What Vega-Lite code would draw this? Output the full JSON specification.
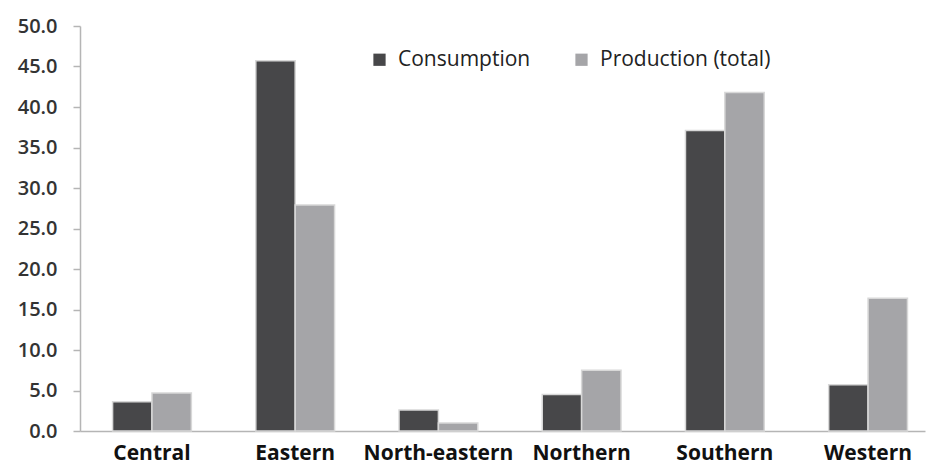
{
  "$schema": "https://vega.github.io/schema/vega-lite/v6.json",
  "width": 845,
  "height": 405,
  "autosize": {"type": "none"},
  "padding": {"left": 80, "top": 26, "right": 2, "bottom": 35},
  "background": "white",
  "data": {
    "values": [
      {"region": "Central", "series": "Consumption", "value": 3.6},
      {"region": "Central", "series": "Production (total)", "value": 4.7},
      {"region": "Eastern", "series": "Consumption", "value": 45.7},
      {"region": "Eastern", "series": "Production (total)", "value": 27.9},
      {"region": "North-eastern", "series": "Consumption", "value": 2.6},
      {"region": "North-eastern", "series": "Production (total)", "value": 1.0},
      {"region": "Northern", "series": "Consumption", "value": 4.5},
      {"region": "Northern", "series": "Production (total)", "value": 7.5},
      {"region": "Southern", "series": "Consumption", "value": 37.1},
      {"region": "Southern", "series": "Production (total)", "value": 41.8},
      {"region": "Western", "series": "Consumption", "value": 5.7},
      {"region": "Western", "series": "Production (total)", "value": 16.4}
    ]
  },
  "mark": {"type": "bar", "stroke": "#d8d8d8", "strokeWidth": 1.5},
  "encoding": {
    "x": {
      "field": "region",
      "type": "nominal",
      "sort": null,
      "scale": {"paddingInner": 0.45, "paddingOuter": 0.175, "align": 0.65},
      "axis": {
        "title": null,
        "labelAngle": 0,
        "ticks": false,
        "labelFont": "Open Sans",
        "labelFontWeight": "bold",
        "labelFontSize": 21,
        "labelColor": "#111111",
        "labelPadding": 11,
        "labelLimit": 300,
        "domainColor": "#b5b5b5",
        "domainWidth": 1.5
      }
    },
    "xOffset": {"field": "series", "type": "nominal"},
    "y": {
      "field": "value",
      "type": "quantitative",
      "scale": {"domain": [0, 50], "nice": false},
      "axis": {
        "title": null,
        "values": [0, 5, 10, 15, 20, 25, 30, 35, 40, 45, 50],
        "format": ".1f",
        "grid": false,
        "labelFont": "Open Sans",
        "labelFontWeight": 600,
        "labelFontSize": 20,
        "labelColor": "#333333",
        "labelPadding": 16,
        "tickColor": "#b5b5b5",
        "tickSize": 7,
        "tickWidth": 1.5,
        "domainColor": "#b5b5b5",
        "domainWidth": 1.5
      }
    },
    "color": {
      "field": "series",
      "type": "nominal",
      "scale": {"domain": ["Consumption", "Production (total)"], "range": ["#474749", "#a5a5a8"]},
      "legend": {
        "title": null,
        "orient": "none",
        "direction": "horizontal",
        "legendX": 289,
        "legendY": 23,
        "symbolType": "square",
        "symbolSize": 150,
        "symbolStrokeWidth": 0,
        "labelFont": "Open Sans",
        "labelFontWeight": 500,
        "labelFontSize": 21,
        "labelColor": "#222222",
        "labelOffset": 8,
        "labelLimit": 400,
        "columnPadding": 40
      }
    }
  },
  "config": {"view": {"stroke": null}}
}
